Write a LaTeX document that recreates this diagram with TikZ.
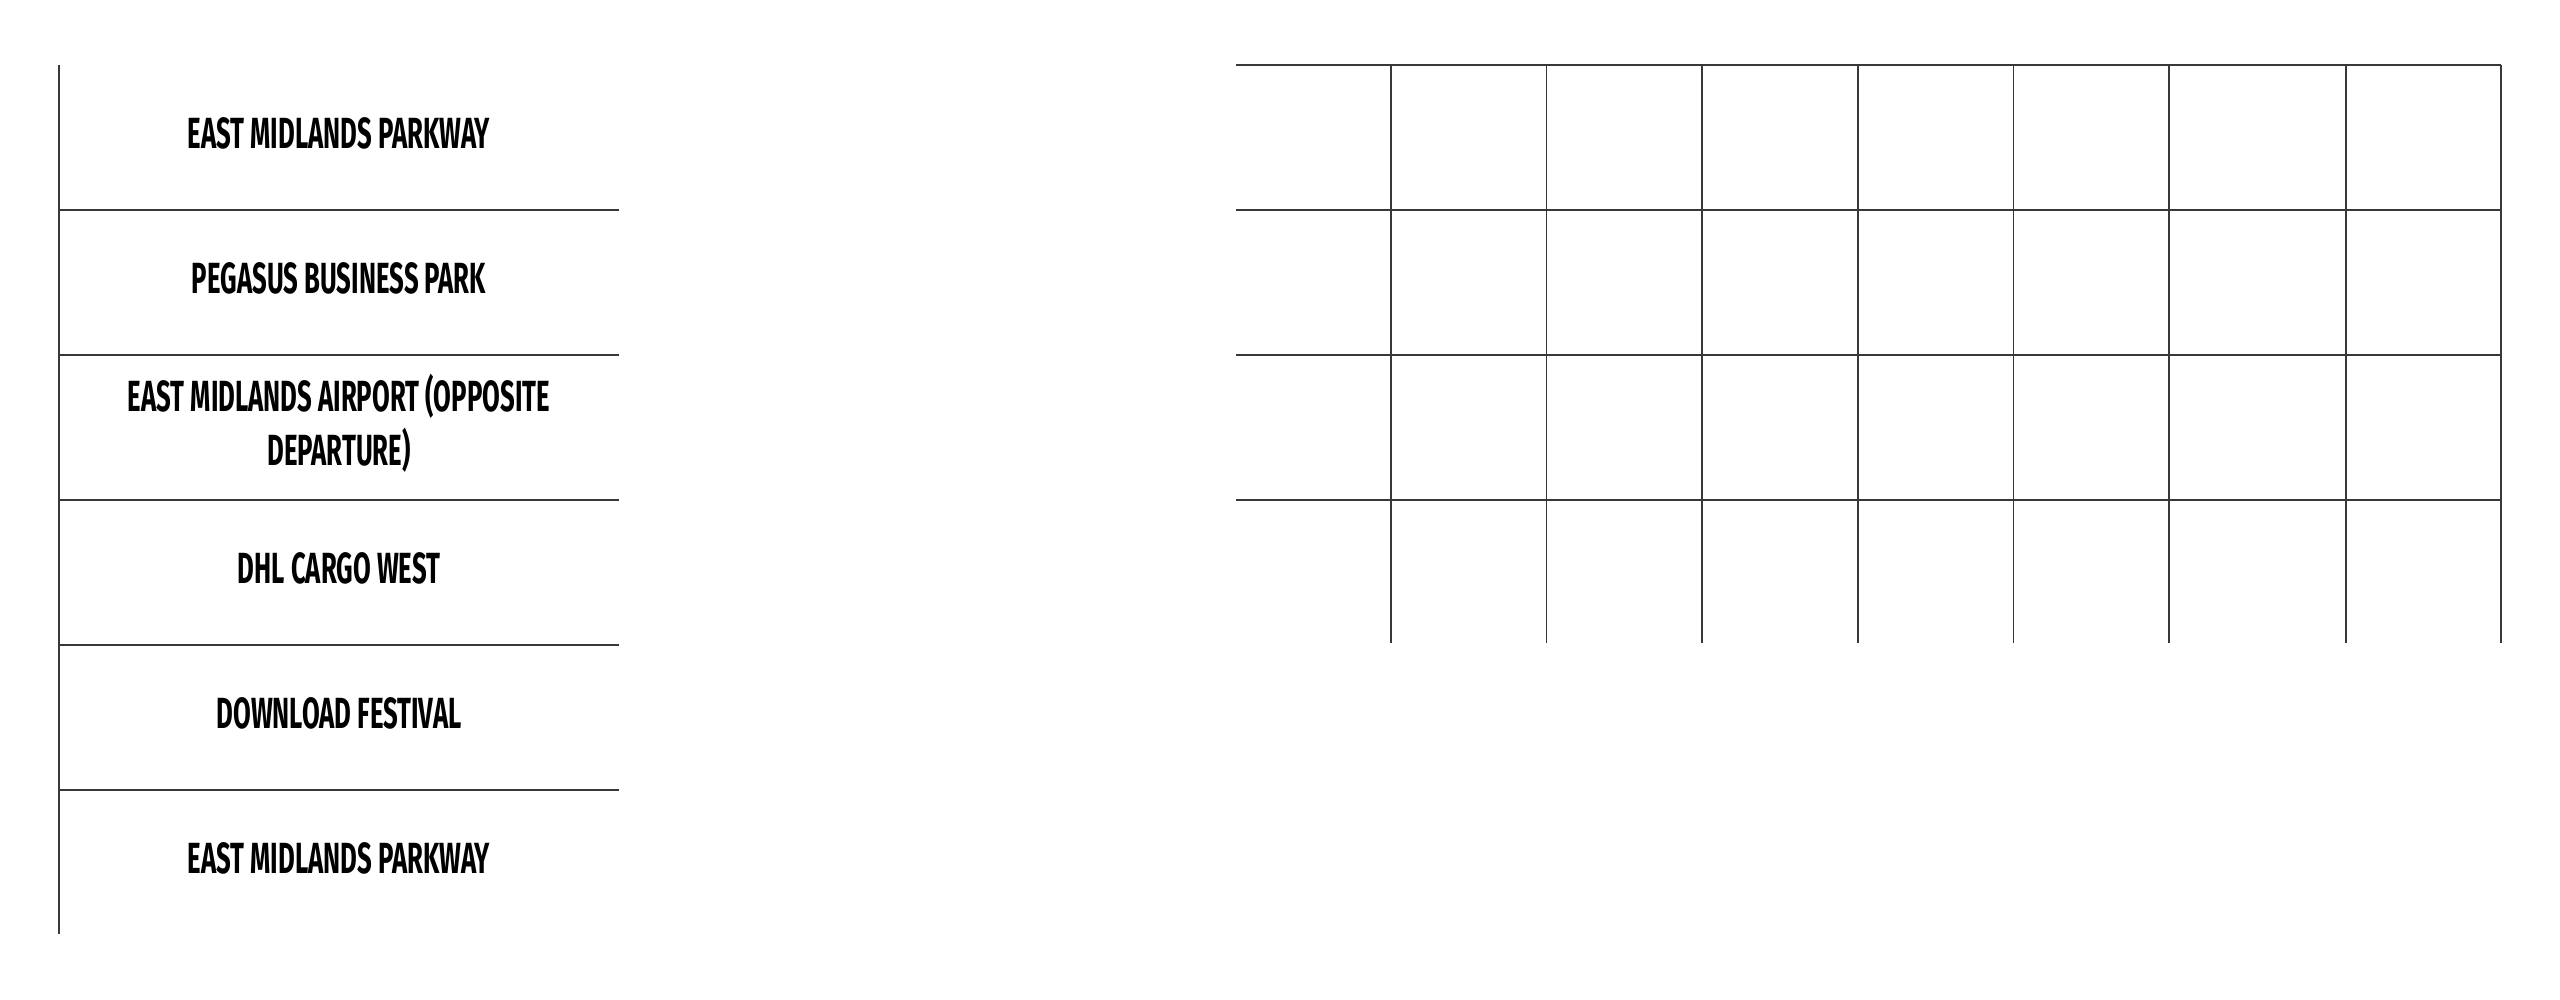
\documentclass[tikz,border=0pt]{standalone}
\usepackage{fontspec}
\usepackage{xcolor}
\usepackage{tikz}
\usetikzlibrary{positioning}
\newfontfamily\stopfont[FakeStretch=0.59]{Fira Sans}
\definecolor{rulegray}{rgb}{0.22, 0.22, 0.22}

\begin{document}
\begin{tikzpicture}[x=0.01cm, y=-0.01cm, node distance=1.45cm, on grid,
  every node/.style={font=\stopfont\bfseries\fontsize{12.4}{15.6}\selectfont, align=center, text=black},
  rule/.style={rulegray, line width=0.45pt}]
\useasboundingbox (0,0) rectangle (2560,1000);
\pgfmathsetmacro{\rowh}{145}
\pgfmathsetmacro{\colw}{155.6}

% stops
\node (parkway) at (339,133) {EAST MIDLANDS PARKWAY};
\node[below=of parkway] (pegasus) {PEGASUS BUSINESS PARK};
\node[below=of pegasus] (airport) {EAST MIDLANDS AIRPORT (OPPOSITE\\DEPARTURE)};
\node[below=of airport] (dhl) {DHL CARGO WEST};
\node[below=of dhl] (download) {DOWNLOAD FESTIVAL};
\node[below=of download] (parkwayback) {EAST MIDLANDS PARKWAY};

\draw[rule] (59,65) -- ++(0,869);
\draw[rule] (59,65+\rowh) -- ++(560,0);
\draw[rule] (59,65+2*\rowh) -- ++(560,0);
\draw[rule] (59,65+3*\rowh) -- ++(560,0);
\draw[rule] (59,65+4*\rowh) -- ++(560,0);
\draw[rule] (59,65+5*\rowh) -- ++(560,0);

% times
\draw[rule] (1236,65) -- ++(1265,0);
\draw[rule] (1236,65+\rowh) -- ++(1265,0);
\draw[rule] (1236,65+2*\rowh) -- ++(1265,0);
\draw[rule] (1236,65+3*\rowh) -- ++(1265,0);

\draw[rule] (1391,65) -- ++(0,578);
\draw[rule] (1391+\colw,65) -- ++(0,578);
\draw[rule] (1391+2*\colw,65) -- ++(0,578);
\draw[rule] (1391+3*\colw,65) -- ++(0,578);
\draw[rule] (1391+4*\colw,65) -- ++(0,578);
\draw[rule] (1391+5*\colw,65) -- ++(0,578);
\draw[rule] (2346,65) -- ++(0,578);
\draw[rule] (2501,65) -- ++(0,578);
\end{tikzpicture}
\end{document}
